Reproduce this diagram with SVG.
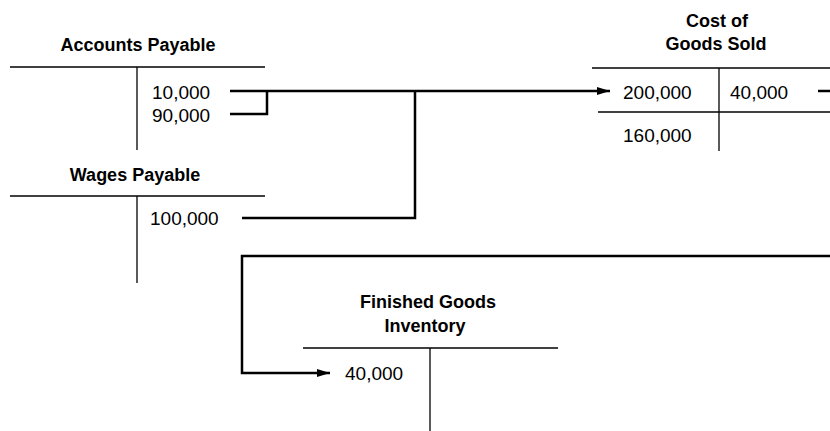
<svg xmlns="http://www.w3.org/2000/svg" width="830" height="431" viewBox="0 0 830 431">
<style>
.title{font-family:"Liberation Sans",Arial,sans-serif;font-weight:bold;font-size:18px;fill:#000;text-anchor:middle}
.num{font-family:"Liberation Sans",Arial,sans-serif;font-size:19px;fill:#000}
.t{stroke:#000;stroke-width:1.3;fill:none}
.c{stroke:#000;stroke-width:2.5;fill:none}
</style>
<defs>
<marker id="arr" markerUnits="userSpaceOnUse" markerWidth="14" markerHeight="10" refX="13" refY="4" orient="auto">
<path d="M0,0 L13,4 L0,8 Z" fill="#000"/>
</marker>
</defs>
<rect width="830" height="431" fill="#fff"/>
<g id="accounts-payable">
<text class="title" x="138" y="51">Accounts Payable</text>
<line class="t" x1="10" y1="67" x2="265" y2="67"/>
<line class="t" x1="137" y1="67" x2="137" y2="150"/>
<text class="num" x="152" y="99">10,000</text>
<text class="num" x="152" y="121.5">90,000</text>
</g>
<g id="wages-payable">
<text class="title" x="135" y="181">Wages Payable</text>
<line class="t" x1="10" y1="196" x2="265" y2="196"/>
<line class="t" x1="137" y1="196" x2="137" y2="283"/>
<text class="num" x="150" y="225">100,000</text>
</g>
<g id="cost-of-goods-sold">
<text class="title" x="717" y="27">Cost of</text>
<text class="title" x="716" y="50">Goods Sold</text>
<line class="t" x1="592" y1="68" x2="830" y2="68"/>
<line class="t" x1="719" y1="68" x2="719" y2="151"/>
<line class="t" x1="598" y1="112" x2="830" y2="112"/>
<text class="num" x="623" y="99">200,000</text>
<text class="num" x="730" y="99">40,000</text>
<text class="num" x="623" y="142">160,000</text>
</g>
<g id="finished-goods-inventory">
<text class="title" x="428" y="308">Finished Goods</text>
<text class="title" x="425" y="332">Inventory</text>
<line class="t" x1="303" y1="348" x2="558" y2="348"/>
<line class="t" x1="430" y1="348" x2="430" y2="431"/>
<text class="num" x="345" y="380">40,000</text>
</g>
<g id="connectors">
<path class="c" d="M230,91 H610" marker-end="url(#arr)"/>
<path class="c" d="M230,114 H267 V91"/>
<path class="c" d="M242,218 H415 V91"/>
<path class="c" d="M818,91 H830"/>
<path class="c" d="M830,256 H242 V373 H330" marker-end="url(#arr)"/>
</g>
</svg>
